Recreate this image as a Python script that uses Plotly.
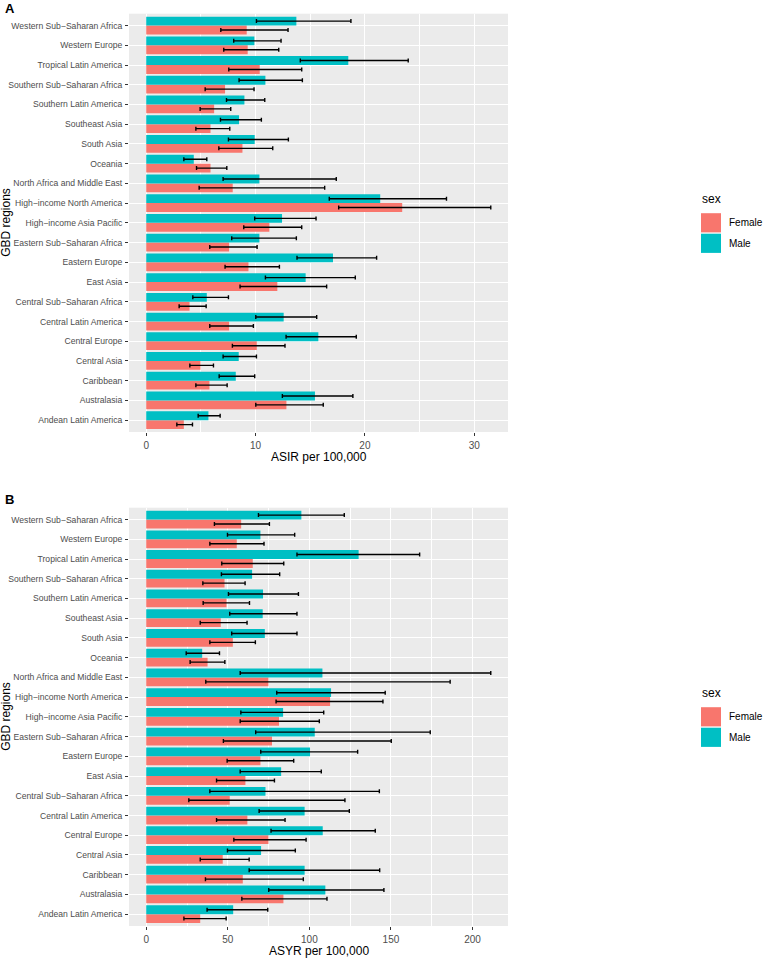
import plotly.graph_objects as go

W, H = 767, 961

regions = [
    "Andean Latin America", "Australasia", "Caribbean", "Central Asia",
    "Central Europe", "Central Latin America", "Central Sub−Saharan Africa",
    "East Asia", "Eastern Europe", "Eastern Sub−Saharan Africa",
    "High−income Asia Pacific", "High−income North America",
    "North Africa and Middle East", "Oceania", "South Asia", "Southeast Asia",
    "Southern Latin America", "Southern Sub−Saharan Africa",
    "Tropical Latin America", "Western Europe", "Western Sub−Saharan Africa",
]

# Panel A: ASIR per 100,000
asir_male = [5.69, 15.43, 8.19, 8.46, 15.74, 12.57, 5.54, 14.58, 17.08, 10.35, 12.42,
             21.40, 10.35, 4.35, 9.92, 8.49, 8.98, 10.90, 18.48, 9.89, 13.73]
asir_male_lo = [4.75, 12.45, 6.67, 7.03, 12.79, 10.02, 4.26, 10.90, 13.79, 7.82, 9.92,
                16.74, 7.03, 3.44, 7.52, 6.79, 7.34, 8.49, 14.09, 8.00, 10.08]
asir_male_hi = [6.76, 18.90, 9.92, 10.08, 19.21, 15.59, 7.52, 19.12, 21.07, 13.73, 15.53,
                27.46, 17.38, 5.54, 13.00, 10.53, 10.84, 14.28, 23.96, 12.33, 18.72]
asir_female = [3.44, 12.82, 5.78, 4.96, 10.11, 7.58, 3.96, 11.99, 9.35, 7.58, 11.26,
               23.41, 7.91, 5.88, 8.80, 5.88, 6.21, 7.21, 10.38, 9.28, 9.19]
asir_female_lo = [2.80, 10.02, 4.54, 3.99, 7.88, 5.81, 3.01, 8.58, 7.21, 5.81, 8.92,
                  17.60, 4.84, 4.60, 6.64, 4.54, 4.93, 5.39, 7.55, 7.09, 6.82]
asir_female_hi = [4.23, 16.19, 7.40, 6.15, 12.69, 9.80, 5.48, 16.50, 12.18, 10.14, 14.22,
                  31.51, 16.32, 7.37, 11.57, 7.64, 7.73, 9.86, 14.22, 12.12, 12.97]

# Panel B: ASYR per 100,000
asyr_male = [53.3, 109.8, 97.1, 70.4, 108.2, 97.1, 73.1, 82.7, 100.4, 103.3, 83.9,
             113.3, 108.0, 34.3, 72.7, 71.4, 71.6, 64.9, 130.2, 70.0, 95.1]
asyr_male_lo = [37.3, 75.1, 63.1, 49.8, 76.5, 69.2, 39.0, 57.6, 70.2, 67.1, 58.0,
                80.0, 57.6, 24.5, 52.4, 51.2, 50.4, 46.1, 92.4, 49.8, 68.8]
asyr_male_hi = [74.5, 145.7, 143.1, 91.4, 140.4, 124.5, 142.9, 107.3, 129.6, 174.1, 108.8,
                146.5, 211.2, 44.9, 92.4, 92.4, 93.3, 81.8, 167.6, 91.0, 121.4]
asyr_female = [33.1, 84.1, 59.2, 46.9, 74.9, 62.0, 51.2, 60.8, 70.0, 77.1, 81.4,
               112.7, 74.9, 37.6, 53.1, 45.7, 49.2, 48.0, 65.3, 55.5, 58.2]
asyr_female_lo = [23.1, 58.6, 36.3, 33.1, 53.7, 43.1, 26.1, 43.1, 49.6, 47.3, 57.6,
                  79.6, 36.5, 26.9, 39.0, 33.1, 34.9, 34.7, 46.3, 39.0, 41.8]
asyr_female_hi = [49.0, 110.8, 96.3, 63.1, 98.0, 85.1, 121.8, 78.6, 90.4, 150.2, 106.1,
                  145.1, 186.3, 48.2, 66.9, 61.8, 63.3, 60.6, 84.3, 72.2, 75.5]

FEMALE = "#F8766D"
MALE = "#00BFC4"
FONT = "Liberation Sans, Arial, sans-serif"


def err(val, lo, hi):
    return dict(type="data", symmetric=False,
                array=[h - v for v, h in zip(val, hi)],
                arrayminus=[v - l for v, l in zip(val, lo)],
                color="black", thickness=1.4, width=2)


def px_x(p):
    return p / W


def px_y(p):
    return 1 - p / H


fig = go.Figure()

panels = [
    ("x", "y", asir_female, asir_female_lo, asir_female_hi,
     asir_male, asir_male_lo, asir_male_hi),
    ("x2", "y2", asyr_female, asyr_female_lo, asyr_female_hi,
     asyr_male, asyr_male_lo, asyr_male_hi),
]
for xa, ya, f, flo, fhi, m, mlo, mhi in panels:
    fig.add_trace(go.Bar(name="Female", y=regions, x=f, orientation="h",
                         marker_color=FEMALE, marker_line_width=0,
                         error_x=err(f, flo, fhi), xaxis=xa, yaxis=ya,
                         offsetgroup="F", showlegend=False))
    fig.add_trace(go.Bar(name="Male", y=regions, x=m, orientation="h",
                         marker_color=MALE, marker_line_width=0,
                         error_x=err(m, mlo, mhi), xaxis=xa, yaxis=ya,
                         offsetgroup="M", showlegend=False))

# ggplot-like expansion (5%) of the data extent
hi_a = max(asir_female_hi + asir_male_hi)
hi_b = max(asyr_female_hi + asyr_male_hi)

xdom = [px_x(129), px_x(508)]
ydom_a = [px_y(432), px_y(13.7)]
ydom_b = [px_y(926), px_y(507.7)]

ytickfont = dict(family=FONT, size=8.6, color="#4D4D4D")
xtickfont = dict(family=FONT, size=10, color="#4D4D4D")
titlefont = dict(family=FONT, size=12, color="black")

common_x = dict(showgrid=True, gridcolor="white", gridwidth=1.4, zeroline=False,
                ticks="outside", ticklen=3, tickcolor="#333333", tickwidth=1,
                tickfont=xtickfont, showline=False, ticklabelstandoff=1,
                automargin=False)
common_y = dict(type="category", categoryorder="array", categoryarray=regions,
                range=[-0.6, len(regions) - 0.4], showgrid=True, gridcolor="white",
                gridwidth=1.4, ticks="outside", ticklen=3, tickcolor="#333333",
                tickwidth=1, tickfont=ytickfont, showline=False,
                ticklabelstandoff=1, automargin=False)

fig.update_layout(
    width=W, height=H,
    margin=dict(l=0, r=0, t=0, b=0),
    paper_bgcolor="white",
    plot_bgcolor="#EBEBEB",
    barmode="group", bargap=0.1, bargroupgap=0,
    font=dict(family=FONT),
    xaxis=dict(domain=xdom, anchor="y", range=[-0.05 * hi_a, 1.05 * hi_a],
               dtick=10, minor=dict(showgrid=True, dtick=5, tick0=5,
                                    gridcolor="white", gridwidth=0.6),
               **common_x),
    yaxis=dict(domain=ydom_a, anchor="x", **common_y),
    xaxis2=dict(domain=xdom, anchor="y2", range=[-0.05 * hi_b, 1.05 * hi_b],
                dtick=50, minor=dict(showgrid=True, dtick=50, tick0=25,
                                     gridcolor="white", gridwidth=0.6),
                **common_x),
    yaxis2=dict(domain=ydom_b, anchor="x2", **common_y),
)

annotations = []
shapes = []

# panel tags, axis titles
for tag, top, dom, xtitle, xtitle_y in [
    ("A", 8, ydom_a, "ASIR per 100,000", 457),
    ("B", 499, ydom_b, "ASYR per 100,000", 951),
]:
    annotations.append(dict(text=f"<b>{tag}</b>", x=px_x(3), y=px_y(top),
                            xref="paper", yref="paper", xanchor="left",
                            yanchor="middle", showarrow=False,
                            font=dict(family=FONT, size=13, color="black")))
    annotations.append(dict(text="GBD regions", x=px_x(6),
                            y=(dom[0] + dom[1]) / 2, xref="paper", yref="paper",
                            textangle=-90, xanchor="center", yanchor="middle",
                            showarrow=False, font=titlefont))
    annotations.append(dict(text=xtitle, x=(xdom[0] + xdom[1]) / 2,
                            y=px_y(xtitle_y), xref="paper", yref="paper",
                            xanchor="center", yanchor="middle",
                            showarrow=False, font=titlefont))

# legends, one per panel
for centre in [222.8, 716.8]:
    annotations.append(dict(text="sex", x=px_x(700), y=px_y(centre - 24),
                            xref="paper", yref="paper", xanchor="left",
                            yanchor="middle", showarrow=False,
                            font=dict(family=FONT, size=12, color="black")))
    for i, (lab, col) in enumerate([("Female", FEMALE), ("Male", MALE)]):
        yc = centre + i * 20.5
        shapes.append(dict(type="rect", xref="paper", yref="paper",
                           x0=px_x(701), x1=px_x(721),
                           y0=px_y(yc + 9.6), y1=px_y(yc - 9.6),
                           fillcolor=col, line=dict(width=0)))
        annotations.append(dict(text=lab, x=px_x(727), y=px_y(yc),
                                xref="paper", yref="paper", xanchor="left",
                                yanchor="middle", showarrow=False,
                                font=dict(family=FONT, size=10, color="black")))

fig.update_layout(annotations=annotations, shapes=shapes)

# the page's default body margin would push the figure 8px off the window
fig.write_html("out.html",
               config={"displayModeBar": False},
               post_script="document.body.style.margin='0';"
                           "document.body.style.overflow='hidden';")
